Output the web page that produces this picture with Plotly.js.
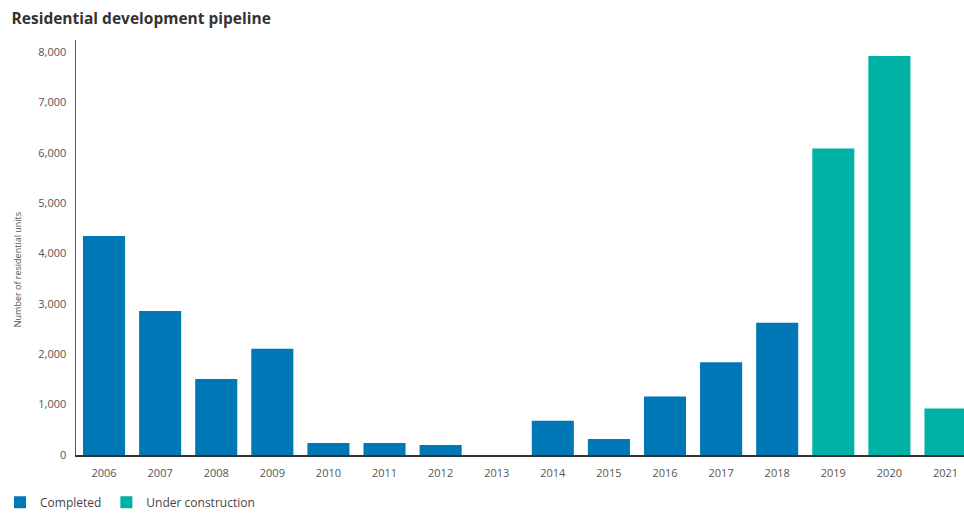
<!DOCTYPE html>
<html>
<head>
<meta charset="utf-8">
<script src="https://cdn.plot.ly/plotly-3.0.1.min.js"></script>
<style>html,body{margin:0;padding:0;background:#fff;}#chart{width:964px;height:513px;}</style>
</head>
<body>
<div id="chart"></div>
<script>
const years = ["2006","2007","2008","2009","2010","2011","2012","2013","2014","2015","2016","2017","2018","2019","2020","2021"];
const completedYears = years.slice(0, 13);
const completed = [4350, 2860, 1510, 2110, 240, 240, 200, 0, 680, 320, 1160, 1840, 2625];
const constructionYears = years.slice(13);
const underConstruction = [6085, 7920, 925];
const yTicks = [0, 1000, 2000, 3000, 4000, 5000, 6000, 7000, 8000];
const yTickText = ["0", "1,000", "2,000", "3,000", "4,000", "5,000", "6,000", "7,000", "8,000"];

const traces = [
  {type: "bar", name: "Completed", x: completedYears, y: completed,
   marker: {color: "#0077b6"}, hoverinfo: "x+y"},
  {type: "bar", name: "Under construction", x: constructionYears, y: underConstruction,
   marker: {color: "#00b2a6"}, hoverinfo: "x+y"}
];

const layout = {
  width: 964, height: 513,
  margin: {l: 76, r: 0, t: 40, b: 58},
  paper_bgcolor: "#fff", plot_bgcolor: "#fff",
  font: {family: "Open Sans, sans-serif", size: 11, color: "#555"},
  title: {text: "<b>Residential development pipeline</b>", x: 0.012, xanchor: "left", y: 0.963, yanchor: "middle",
          xref: "container", yref: "container", font: {family: "Open Sans, sans-serif", size: 15.5, color: "#333"}},
  barmode: "overlay",
  bargap: 0.25,
  xaxis: {type: "category", categoryorder: "array", categoryarray: years, range: [-0.5, 15.33],
          showline: true, linecolor: "#333", linewidth: 1.5, showgrid: false, ticks: "", zeroline: false,
          tickfont: {size: 11, color: "#555"}, ticklabelstandoff: 7, fixedrange: true},
  yaxis: {range: [0, 8240], tickvals: yTicks, ticktext: yTickText, showline: true, linecolor: "#555", linewidth: 1.5,
          showgrid: false, zeroline: false, ticks: "", ticklabelstandoff: 6, tickfont: {size: 11, color: "#555"}, fixedrange: true},
  showlegend: true,
  legend: {orientation: "h", xref: "container", yref: "container", x: 0, xanchor: "left", y: 0.049, yanchor: "top",
           font: {size: 12, color: "#444"}, itemwidth: 30, traceorder: "normal"},
  annotations: [{text: "Number of residential units", textangle: -90, xref: "paper", yref: "paper",
                 x: -0.065, y: 0.446, xanchor: "center", yanchor: "middle", showarrow: false,
                 font: {size: 9, color: "#555"}}]
};

Plotly.newPlot("chart", traces, layout, {displayModeBar: false, staticPlot: true});
</script>
</body>
</html>
